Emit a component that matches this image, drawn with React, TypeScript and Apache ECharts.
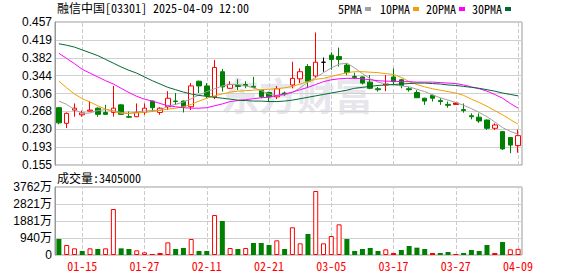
import React, { useEffect, useRef } from "react";
import * as echarts from "echarts";

const dates = ["01-10","01-13","01-14","01-15","01-16","01-17","01-20","01-21","01-22","01-23","01-24","01-27","01-28","02-03","02-04","02-05","02-06","02-07","02-10","02-11","02-12","02-13","02-14","02-17","02-18","02-19","02-20","02-21","02-24","02-25","02-26","02-27","02-28","03-03","03-04","03-05","03-06","03-07","03-10","03-11","03-12","03-13","03-14","03-17","03-18","03-19","03-20","03-21","03-24","03-25","03-26","03-27","03-28","03-31","04-01","04-02","04-03","04-07","04-08","04-09"];

// [open, close, low, high]
const ohlc = [
  [0.276,0.244,0.241,0.277],[0.243,0.264,0.233,0.266],[0.271,0.275,0.257,0.285],[0.261,0.265,0.257,0.270],
  [0.269,0.271,0.268,0.290],[0.275,0.262,0.257,0.277],[0.266,0.262,0.261,0.282],[0.266,0.275,0.257,0.322],
  [0.282,0.262,0.261,0.283],[0.257,0.256,0.254,0.268],[0.257,0.266,0.256,0.285],[0.266,0.275,0.261,0.285],
  [0.290,0.276,0.268,0.291],[0.266,0.275,0.261,0.277],[0.278,0.296,0.271,0.311],[0.290,0.289,0.282,0.307],
  [0.290,0.278,0.266,0.291],[0.278,0.322,0.271,0.328],[0.332,0.322,0.307,0.333],[0.322,0.301,0.296,0.328],
  [0.299,0.361,0.294,0.377],[0.352,0.320,0.310,0.358],[0.317,0.325,0.316,0.332],[0.323,0.321,0.313,0.336],
  [0.325,0.323,0.317,0.332],[0.321,0.319,0.317,0.341],[0.313,0.299,0.296,0.314],[0.308,0.299,0.289,0.310],
  [0.299,0.316,0.294,0.322],[0.307,0.305,0.301,0.310],[0.324,0.338,0.317,0.373],[0.337,0.352,0.328,0.359],
  [0.363,0.332,0.320,0.368],[0.343,0.372,0.338,0.435],[0.372,0.372,0.352,0.382],[0.387,0.378,0.356,0.393],
  [0.384,0.378,0.363,0.403],[0.366,0.350,0.345,0.370],[0.342,0.340,0.337,0.350],[0.341,0.328,0.325,0.342],
  [0.330,0.317,0.315,0.345],[0.316,0.314,0.310,0.320],[0.324,0.326,0.311,0.345],[0.341,0.331,0.324,0.359],
  [0.335,0.323,0.317,0.337],[0.316,0.314,0.310,0.320],[0.308,0.297,0.297,0.313],[0.296,0.290,0.282,0.297],
  [0.302,0.296,0.289,0.304],[0.291,0.289,0.282,0.296],[0.283,0.281,0.276,0.289],[0.283,0.286,0.283,0.287],
  [0.272,0.270,0.2655,0.285],[0.259,0.257,0.2515,0.264],[0.256,0.248,0.244,0.264],[0.250,0.2325,0.229,0.251],
  [0.2325,0.2395,0.229,0.243],[0.2255,0.189,0.187,0.226],[0.213,0.197,0.180,0.213],[0.196,0.217,0.181,0.230]
];

const ma5 = [0.290,0.283,0.272,0.264,0.265,0.270,0.272,0.270,0.266,0.264,0.267,0.269,0.270,0.271,0.279,0.283,0.288,0.295,0.303,0.310,0.316,0.322,0.325,0.325,0.322,0.318,0.312,0.305,0.301,0.303,0.308,0.318,0.330,0.340,0.350,0.360,0.368,0.370,0.360,0.348,0.337,0.330,0.326,0.324,0.322,0.320,0.315,0.310,0.303,0.297,0.292,0.287,0.281,0.274,0.266,0.257,0.246,0.234,0.226,0.220];
const ma10 = [0.332,0.318,0.305,0.295,0.288,0.280,0.273,0.268,0.264,0.264,0.265,0.266,0.268,0.270,0.273,0.275,0.278,0.283,0.290,0.296,0.301,0.305,0.309,0.311,0.312,0.313,0.314,0.315,0.316,0.318,0.321,0.326,0.331,0.336,0.338,0.342,0.346,0.350,0.352,0.352,0.351,0.350,0.348,0.346,0.340,0.331,0.325,0.320,0.316,0.313,0.310,0.307,0.302,0.294,0.287,0.279,0.270,0.261,0.251,0.241];
const ma20 = [0.391,0.380,0.369,0.357,0.349,0.341,0.333,0.326,0.317,0.308,0.300,0.294,0.290,0.285,0.280,0.278,0.276,0.275,0.275,0.276,0.280,0.284,0.289,0.291,0.293,0.295,0.297,0.298,0.302,0.305,0.309,0.314,0.319,0.325,0.331,0.335,0.337,0.338,0.338,0.337,0.335,0.333,0.332,0.332,0.331,0.331,0.330,0.330,0.330,0.329,0.328,0.327,0.324,0.320,0.316,0.311,0.304,0.296,0.285,0.275];
const ma30 = [0.411,0.408,0.404,0.398,0.392,0.386,0.378,0.370,0.362,0.355,0.349,0.341,0.333,0.326,0.319,0.314,0.309,0.305,0.302,0.300,0.298,0.296,0.294,0.292,0.291,0.290,0.290,0.289,0.289,0.290,0.292,0.295,0.298,0.301,0.304,0.307,0.310,0.313,0.317,0.319,0.321,0.323,0.324,0.325,0.326,0.327,0.328,0.328,0.327,0.326,0.324,0.323,0.321,0.319,0.317,0.314,0.311,0.307,0.304,0.301];

// volume in 万
const volumes = [885,553,369,221,369,332,369,2544,369,332,258,147,55,110,700,332,387,885,221,221,2212,1880,387,332,387,664,664,553,811,332,1532,645,1161,3540,645,1051,1696,885,221,332,387,221,313,110,276,498,406,332,110,110,166,55,110,276,221,553,110,719,313,340.5];
// r = up (hollow red), g = down (green), f = filled red
const volKind = ["g","r","r","g","r","g","r","r","g","g","r","r","f","f","r","g","g","r","g","g","r","g","r","g","r","g","g","g","r","g","r","r","g","r","r","r","r","g","g","g","g","g","r","f","g","g","g","g","f","g","g","f","g","g","g","g","f","g","r","r"];
const dojiCandles = [34];
const filledUpCandles = [51];

const priceTicks = ["0.155","0.193","0.230","0.268","0.306","0.344","0.382","0.419","0.457"];
const volTicks = ["0","940万","1881万","2821万","3762万"];
const labelDates = ["01-15","01-27","02-11","02-21","03-05","03-17","03-27","04-09"];

const stockTitle = "融信中国[03301] 2025-04-09 12:00";
const volTitle = "成交量:3405000";
const legendNames = ["5PMA","10PMA","20PMA","30PMA"];

const RED = "#ff0000";
const GREEN = "#008000";
const MONO = "'Noto Sans Mono CJK SC', 'Noto Sans CJK SC', monospace";

export default function App() {
  const ref = useRef<HTMLDivElement>(null);
  useEffect(() => {
    if (!ref.current) return;
    const chart = echarts.init(ref.current, null, { renderer: "svg" });
    const pMin = 0.155, pMax = 0.457, pInt = (pMax - pMin) / 8;
    const vMax = 3762, vInt = vMax / 4;
    const showIdx = (i: number) => (dates.length - 1 - i) % 8 === 0;
    const maColors = ["#a0a0a0", "#f0a000", "#ff00ff", "#006a32"];
    const candleData = ohlc.map((d, i) => {
      if (dojiCandles.includes(i)) return { value: d, itemStyle: { color: "#000", borderColor: "#000", color0: "#000", borderColor0: "#000", borderColorDoji: "#000" } };
      if (filledUpCandles.includes(i)) return { value: d, itemStyle: { color: RED, borderColor: RED } };
      return d;
    });
    const volData = volumes.map((v, i) => {
      const k = volKind[i];
      const style = k === "g" ? { color: GREEN, borderColor: GREEN, borderWidth: 0 }
        : k === "f" ? { color: RED, borderColor: RED, borderWidth: 0 }
        : { color: "#ffffff", borderColor: RED, borderWidth: 1 };
      return { value: v, itemStyle: style };
    });
    const legendX = [338, 380, 426, 472];
    const markerX = [365, 413, 459, 505];
    const graphics: any[] = [
      { type: "text", left: 57, top: 1, style: { text: stockTitle, font: `12px ${MONO}`, fill: "#000" }, z: 10 },
      { type: "text", left: 57, top: 171, style: { text: volTitle, font: `12px ${MONO}`, fill: "#000" }, z: 10 },
      { type: "text", x: 297, y: 93, silent: true, z: -1, style: { text: "东方财富", font: "bold 38px 'Noto Sans CJK SC'", fill: "#e6e6ec", align: "center", verticalAlign: "middle" } },
    ];
    legendNames.forEach((n, i) => {
      graphics.push({ type: "text", left: legendX[i], top: 2, style: { text: n, font: `12px ${MONO}`, fill: "#000" }, z: 10 });
      graphics.push({ type: "rect", shape: { x: markerX[i], y: 7, width: 6, height: 4 }, style: { fill: maColors[i] }, z: 10 });
    });
    const vLineStyle = { type: "dashed" as const, color: "#cccccc", width: 1 };
    chart.setOption({
      animation: false,
      backgroundColor: "#ffffff",
      graphic: graphics,
      grid: [
        { left: 55, right: 56, top: 22, height: 143, show: true, borderColor: "#999999", borderWidth: 1, backgroundColor: "transparent" },
        { left: 55, right: 56, top: 187, height: 68, show: true, borderColor: "#999999", borderWidth: 1, backgroundColor: "transparent" },
      ],
      xAxis: [
        { type: "category", gridIndex: 0, data: dates, boundaryGap: true, axisLine: { show: false }, axisTick: { show: false }, axisLabel: { show: false }, splitLine: { show: false } },
        { type: "category", gridIndex: 1, data: dates, boundaryGap: true, axisLine: { show: false }, axisTick: { show: false },
          axisLabel: { interval: (i: number) => showIdx(i), color: RED, fontSize: 12, fontFamily: MONO, margin: 4 }, splitLine: { show: false } },
      ],
      yAxis: [
        { type: "value", gridIndex: 0, min: pMin, max: pMax, interval: pInt, axisLine: { show: true, lineStyle: { color: "#999999" } }, axisTick: { show: false },
          axisLabel: { color: "#000", fontSize: 12, fontFamily: "'Liberation Sans', Arial", margin: 3, formatter: (v: number) => priceTicks[Math.round((v - pMin) / pInt)] ?? "" },
          splitLine: { show: true, lineStyle: { color: "#d0d0d0", width: 1 } } },
        { type: "value", gridIndex: 1, min: 0, max: vMax, interval: vInt, axisLine: { show: true, lineStyle: { color: "#999999" } }, axisTick: { show: false },
          axisLabel: { color: "#000", fontSize: 12, fontFamily: "'Liberation Sans', Arial, 'Noto Sans CJK SC'", margin: 3, formatter: (v: number) => volTicks[Math.round(v / vInt)] ?? "" },
          splitLine: { show: true, lineStyle: { color: "#d0d0d0", width: 1 } } },
      ],
      series: [
        {
          type: "candlestick", xAxisIndex: 0, yAxisIndex: 0, data: candleData, barWidth: 5, z: 2,
          itemStyle: { color: "#ffffff", color0: GREEN, borderColor: RED, borderColor0: GREEN, borderColorDoji: "#000", borderWidth: 1 },
          markLine: { silent: true, symbol: "none", z: 1, label: { show: false }, lineStyle: vLineStyle, data: labelDates.map((d) => ({ xAxis: d })) },
        },
        ...[ma5, ma10, ma20, ma30].map((d, i) => ({
          type: "line", name: legendNames[i], xAxisIndex: 0, yAxisIndex: 0, data: d, showSymbol: false, symbol: "none", z: 3,
          lineStyle: { color: maColors[i], width: 1 }, itemStyle: { color: maColors[i] },
        })),
        {
          type: "bar", xAxisIndex: 1, yAxisIndex: 1, data: volData, barWidth: 5, z: 2,
          markLine: { silent: true, symbol: "none", z: 1, label: { show: false }, lineStyle: vLineStyle, data: labelDates.map((d) => ({ xAxis: d })) },
        },
      ],
    });
    return () => chart.dispose();
  }, []);
  return <div ref={ref} style={{ width: 578, height: 276, position: "absolute", left: 0, top: 0 }} />;
}
